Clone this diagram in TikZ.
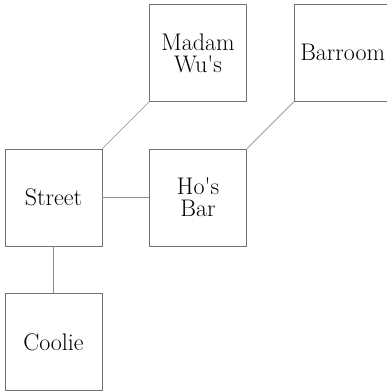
\documentclass[tikz,border=0pt]{standalone}
\usepackage{tikz}
\usepackage{textcomp}
\usetikzlibrary{positioning}

\begin{document}
\begin{tikzpicture}[x=1pt,y=1pt,
	room/.style={draw=black!55,line width=.6pt,minimum size=97pt,inner sep=0pt,align=center,
		font=\fontsize{24}{22}\selectfont},
	link/.style={draw=black!45,line width=.6pt},
	node distance=47pt]
	
	\useasboundingbox (0,0) rectangle (387,392);
	
	\node[room] (street) at (53.5,194.5) {Street};
	\node[room,right=of street] (hosbar) {Ho\textquotesingle s\\Bar};
	\node[room,above=of hosbar] (madamwu) {Madam\\Wu\textquotesingle s};
	\node[room,right=of madamwu] (barroom) {Barroom};
	\node[room,below=of street] (coolie) {Coolie};
	
	\draw[link] (street.north east) -- (madamwu.south west);
	\draw[link] (hosbar.north east) -- (barroom.south west);
	\draw[link] (street.east) -- (hosbar.west);
	\draw[link] (street.south) -- (coolie.north);
	
\end{tikzpicture}
\end{document}
